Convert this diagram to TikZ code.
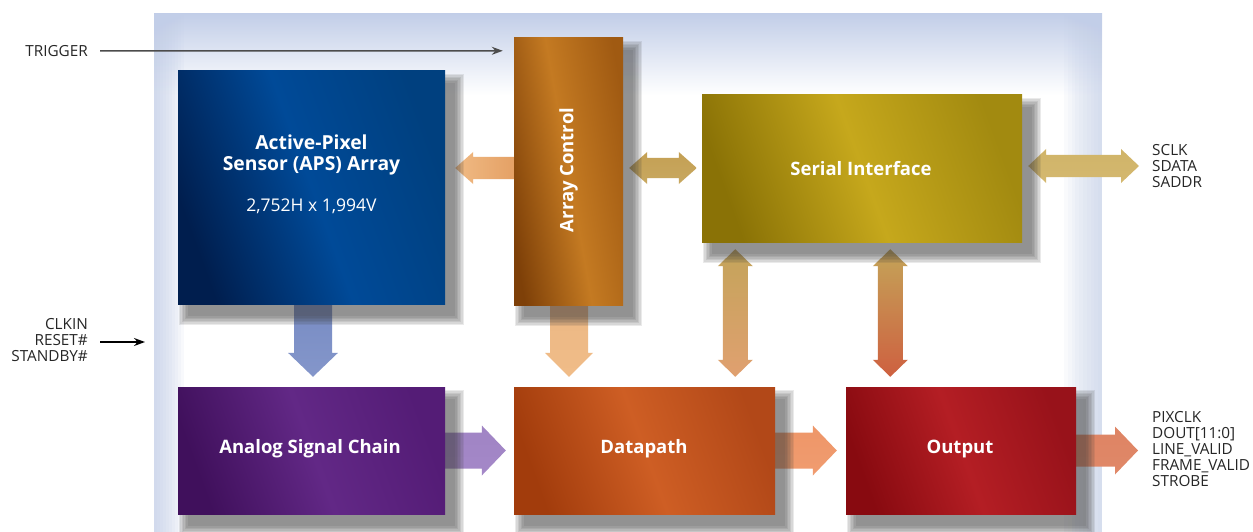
\documentclass[tikz,border=0pt]{standalone}
\usepackage{fontspec}
\setmainfont{Open Sans}
\usetikzlibrary{calc,arrows.meta}
\pgfdeclarelayer{back}
\pgfdeclarelayer{bg}
\pgfdeclarelayer{shad}
\pgfsetlayers{back,bg,shad,main}
\definecolor{panelblue}{HTML}{C2CEE8}
\definecolor{apsA}{HTML}{001E4E}\definecolor{apsB}{HTML}{004A98}\definecolor{apsC}{HTML}{00407F}
\definecolor{acA}{HTML}{7E4008}\definecolor{acB}{HTML}{C47A22}\definecolor{acC}{HTML}{A05A12}
\definecolor{siA}{HTML}{8A7206}\definecolor{siB}{HTML}{C6A81C}\definecolor{siC}{HTML}{A28A10}
\definecolor{ascA}{HTML}{40105C}\definecolor{ascB}{HTML}{622886}\definecolor{ascC}{HTML}{541C76}
\definecolor{dpA}{HTML}{A23C0C}\definecolor{dpB}{HTML}{CE5E24}\definecolor{dpC}{HTML}{B24818}
\definecolor{outA}{HTML}{880A10}\definecolor{outB}{HTML}{B41E24}\definecolor{outC}{HTML}{98121A}
\newcommand\arrR[6]{\path[#1] let \p1=(#2),\p2=(#3) in (\x1,\y1+#4) -- (\x2-#6,\y1+#4) -- (\x2-#6,\y1+#5) -- (\x2,\y1) -- (\x2-#6,\y1-#5) -- (\x2-#6,\y1-#4) -- (\x1,\y1-#4) -- cycle;}
\newcommand\arrL[6]{\path[#1] let \p1=(#2),\p2=(#3) in (\x1,\y1+#4) -- (\x2+#6,\y1+#4) -- (\x2+#6,\y1+#5) -- (\x2,\y1) -- (\x2+#6,\y1-#5) -- (\x2+#6,\y1-#4) -- (\x1,\y1-#4) -- cycle;}
\newcommand\arrD[6]{\path[#1] let \p1=(#2),\p2=(#3) in (\x1+#4,\y1) -- (\x1+#4,\y2+#6) -- (\x1+#5,\y2+#6) -- (\x1,\y2) -- (\x1-#5,\y2+#6) -- (\x1-#4,\y2+#6) -- (\x1-#4,\y1) -- cycle;}
\newcommand\arrLR[6]{\path[#1] let \p1=(#2),\p2=(#3) in (\x1,\y1) -- (\x1+#6,\y1+#5) -- (\x1+#6,\y1+#4) -- (\x2-#6,\y1+#4) -- (\x2-#6,\y1+#5) -- (\x2,\y1) -- (\x2-#6,\y1-#5) -- (\x2-#6,\y1-#4) -- (\x1+#6,\y1-#4) -- (\x1+#6,\y1-#5) -- cycle;}
\newcommand\arrUD[6]{\path[#1] let \p1=(#2),\p2=(#3) in (\x1,\y1) -- (\x1+#5,\y1-#6) -- (\x1+#4,\y1-#6) -- (\x1+#4,\y2+#6) -- (\x1+#5,\y2+#6) -- (\x1,\y2) -- (\x1-#5,\y2+#6) -- (\x1-#4,\y2+#6) -- (\x1-#4,\y1-#6) -- (\x1-#5,\y1-#6) -- cycle;}
\newcommand\boxshadow[1]{\foreach \r in {0,1.5,...,9} {\fill[black!75, opacity=0.11] ($(#1.north west)+(10-\r,12-\r)$) rectangle ($(#1.south east)+(10+\r,12+\r)$);}}
\tikzset{
  blk/.style={rectangle, inner sep=0pt, draw=none},
  boxtxt/.style={text=white, font=\fontsize{18.5}{21}\selectfont\bfseries, align=center, inner sep=0pt},
  lbl/.style={text=black!85, inner sep=0pt, font=\fontsize{15.3}{16}\selectfont},
  sig/.style={line width=1.5pt, -{Stealth[length=11pt,width=8pt]}},
}
\begin{document}
\begin{tikzpicture}[x=1pt,y=-1pt]
\useasboundingbox (0,0) rectangle (1253,532);
\begin{pgfonlayer}{back}
\fill[white] (154,14) rectangle (1102,532);
\shade[top color=panelblue, bottom color=white] (154,14) rectangle (1102,95);
\foreach \i in {1,...,10} {
  \fill[panelblue, opacity=0.11] (154,14) rectangle ({154+3*\i},532);
  \fill[panelblue, opacity=0.09] ({1102-3.8*\i},14) rectangle (1102,532);
}
\end{pgfonlayer}
% blocks
\node[blk, left color=apsA, right color=apsC, middle color=apsB, shading angle=110, minimum width=267pt, minimum height=233pt] (aps) at (311.5,187.5) {};
\node[blk, left color=acA, right color=acC, middle color=acB, shading angle=100, minimum width=109pt, minimum height=267pt] (ac) at (568.5,171.5) {};
\node[blk, left color=siA, right color=siC, middle color=siB, shading angle=110, minimum width=320pt, minimum height=147pt] (si) at (862,168.5) {};
\node[blk, left color=ascA, right color=ascC, middle color=ascB, shading angle=110, minimum width=267pt, minimum height=127pt] (asc) at (311.5,450.5) {};
\node[blk, left color=dpA, right color=dpC, middle color=dpB, shading angle=110, minimum width=261pt, minimum height=127pt] (dp) at (644.5,450.5) {};
\node[blk, left color=outA, right color=outC, middle color=outB, shading angle=110, minimum width=230pt, minimum height=127pt] (out) at (961,450.5) {};
\begin{pgfonlayer}{shad}
\boxshadow{aps}\boxshadow{ac}\boxshadow{si}\boxshadow{asc}\boxshadow{dp}\boxshadow{out}
\end{pgfonlayer}
% block texts
\node[boxtxt, font=\fontsize{19.3}{21}\selectfont\bfseries] (apst) at (311.5,154.5) {Active-Pixel\\Sensor (APS) Array};
\node[boxtxt, font=\fontsize{17.5}{18}\selectfont] (apsd) at (311.5,206) {2,752H x 1,994V};
\node[boxtxt, rotate=90] (act) at (568.5,170) {Array Control};
\node[boxtxt] (sit) at (861,169) {Serial Interface};
\node[boxtxt] (asct) at (310,449) {Analog Signal Chain};
\node[boxtxt] (dpt) at (644,449) {Datapath};
\node[boxtxt] (outt) at (960,449) {Output};
% labels
\node[lbl, anchor=east] (trig) at (88,51) {TRIGGER};
\node[lbl, anchor=east, align=right] (clk) at (88,340) {CLKIN\\RESET\#\\STANDBY\#};
\node[lbl, anchor=west, align=left] (ser) at (1152,166) {SCLK\\SDATA\\SADDR};
\node[lbl, anchor=west, align=left] (pix) at (1152,449) {PIXCLK\\DOUT[11:0]\\LINE\_VALID\\FRAME\_VALID\\STROBE};
\coordinate (clktip) at (145,342);
\coordinate (sr) at (1139,166);
\coordinate (po) at (1138,450);
% signal arrows
\draw[sig, draw=black!70, fill=black!70] ($(trig.east)+(12,0)$) -- ($(ac.north west)+(-11,13)$);
\draw[sig, draw=black, fill=black] ($(clk.east)+(12,2)$) -- (clktip);
% block arrows
\begin{pgfonlayer}{bg}
\arrL{left color={rgb,255:red,240;green,186;blue,132}, right color={rgb,255:red,228;green,160;blue,100}}{$(ac.west)+(2,-3.5)$}{$(aps.east)+(10,0)$}{11pt}{16pt}{18pt}
\arrLR{top color={rgb,255:red,196;green,160;blue,84}, middle color={rgb,255:red,240;green,228;blue,196}, bottom color={rgb,255:red,200;green,168;blue,96}}{$(ac.east)+(6,-3.5)$}{$(si.west)+(-5,0)$}{10pt}{16pt}{18pt}
\arrLR{top color={rgb,255:red,208;green,180;blue,104}, middle color={rgb,255:red,244;green,234;blue,206}, bottom color={rgb,255:red,212;green,184;blue,112}}{$(si.east)+(6,-2.5)$}{sr}{11pt}{17pt}{18pt}
\arrD{top color={rgb,255:red,120;green,140;blue,196}, middle color={rgb,255:red,168;green,180;blue,214}, bottom color={rgb,255:red,132;green,150;blue,202}}{$(aps.south)+(1.5,-2)$}{$(asc.north)+(0,-10)$}{19pt}{25pt}{24pt}
\arrD{top color={rgb,255:red,236;green,184;blue,132}, middle color={rgb,255:red,246;green,212;blue,172}, bottom color={rgb,255:red,240;green,188;blue,136}}{$(ac.south)+(0.5,-2)$}{$(dp.north)+(0,-10)$}{19pt}{24pt}{24pt}
\arrUD{top color={rgb,255:red,196;green,164;blue,90}, middle color={rgb,255:red,240;green,228;blue,200}, bottom color={rgb,255:red,224;green,160;blue,112}}{$(si.south west)+(33.5,7)$}{$(dp.north)+(0,-10)$}{12.5pt}{17.5pt}{17pt}
\arrUD{top color={rgb,255:red,196;green,164;blue,88}, middle color={rgb,255:red,238;green,224;blue,196}, bottom color={rgb,255:red,206;green,96;blue,64}}{$(si.south west)+(188.5,7)$}{$(out.north)+(0,-10)$}{12.5pt}{17.5pt}{17pt}
\arrR{top color={rgb,255:red,160;green,132;blue,196}, middle color={rgb,255:red,192;green,172;blue,216}, bottom color={rgb,255:red,164;green,136;blue,200}}{$(asc.east)+(-2,0)$}{$(dp.west)+(-8,0)$}{18pt}{25pt}{24pt}
\arrR{top color={rgb,255:red,238;green,150;blue,104}, middle color={rgb,255:red,246;green,190;blue,156}, bottom color={rgb,255:red,240;green,156;blue,112}}{$(dp.east)+(-2,0)$}{$(out.west)+(-9,0)$}{18pt}{25pt}{24pt}
\arrR{top color={rgb,255:red,222;green,132;blue,100}, middle color={rgb,255:red,236;green,168;blue,140}, bottom color={rgb,255:red,224;green,136;blue,104}}{$(out.east)+(-2,0)$}{po}{16pt}{24pt}{23pt}
\end{pgfonlayer}
\end{tikzpicture}
\end{document}
